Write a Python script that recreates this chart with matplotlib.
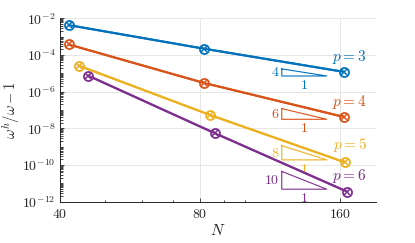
import matplotlib
matplotlib.use('Agg')
import matplotlib.pyplot as plt
import matplotlib.ticker as mticker
import numpy as np

plt.rcParams['mathtext.fontset'] = 'cm'
plt.rcParams['font.family'] = 'DejaVu Serif'

# --- data ---
orders = [3, 4, 5, 6]
colors = ['#0072BD', '#D95319', '#EDB120', '#7E2F8E']
N_vals = [
    [41.8, 81.5, 163],
    [41.8, 81.5, 163],
    [43.9, 84, 164],
    [46, 86, 166],
]
err_vals = [
    [4.2e-3, 2.2e-4, 1.2e-5],
    [3.7e-4, 3.0e-6, 4.2e-8],
    [2.6e-5, 5.4e-8, 1.4e-10],
    [7.4e-6, 5.5e-9, 3.5e-12],
]
slopes = [4, 6, 8, 10]
tri_N = [120, 150]
tri_base = [7.1e-6, 3.1e-8, 1.9e-10, 4.8e-12]
label_y = [7.8e-5, 2.8e-7, 1.2e-9, 2.6e-11]
label_N = 168
xticks = [40, 80, 160]

fig = plt.figure(figsize=(4.15, 2.43), dpi=100)
ax = fig.add_axes([0.1446, 0.170, 0.7604, 0.755])

for p, c, N, e, s, tb, ly in zip(orders, colors, N_vals, err_vals, slopes, tri_base, label_y):
    ax.plot(N, e, '-', color=c, lw=1.5, marker='o', ms=6.5, mfc='white', mew=1.3, zorder=3)
    ax.plot(N, e, 'none', color=c, marker='x', ms=4.0, mew=1.1, zorder=4)
    # slope triangle
    n0, n1 = tri_N
    top = tb * (n1 / n0) ** s
    ax.plot([n0, n0, n1, n0], [top, tb, tb, top], color=c, lw=0.8, zorder=2)
    ax.text(n0 * 0.99, np.sqrt(top * tb), '$%d$' % s, color=c, fontsize=10,
            ha='right', va='center')
    ax.text(np.sqrt(n0 * n1), tb * 0.78, '$1$', color=c, fontsize=10, ha='center', va='top')
    ax.text(label_N, ly, '$p = %d$' % p, color=c, fontsize=11, ha='center', va='center')

ax.set_xscale('log')
ax.set_yscale('log')
ax.set_xlim(40, 191)
ax.set_ylim(1e-12, 1e-2)

ax.xaxis.set_major_locator(mticker.FixedLocator(xticks))
ax.xaxis.set_major_formatter(mticker.FixedFormatter(['$%d$' % t for t in xticks]))
ax.xaxis.set_minor_locator(mticker.FixedLocator([50, 60, 70, 90, 100]))
ax.xaxis.set_minor_formatter(mticker.NullFormatter())

ax.yaxis.set_major_locator(mticker.FixedLocator([10.0 ** k for k in range(-12, -1, 2)]))
ax.yaxis.set_major_formatter(mticker.FuncFormatter(lambda v, pos: r'$10^{%d}$' % round(np.log10(v))))
ax.yaxis.set_minor_locator(mticker.LogLocator(base=10, subs=np.arange(1, 10), numticks=100))
ax.yaxis.set_minor_formatter(mticker.NullFormatter())

ax.grid(True, which='major', color='#e6e6e6', lw=0.7)
ax.set_axisbelow(True)
for side in ['top', 'right']:
    ax.spines[side].set_visible(False)
for side in ['left', 'bottom']:
    ax.spines[side].set_color('#262626')
    ax.spines[side].set_linewidth(0.7)
ax.tick_params(which='both', direction='in', colors='#262626', labelsize=10, width=0.6)
ax.tick_params(which='major', length=3)
ax.tick_params(which='minor', length=1.8)

ax.set_xlabel('$N$', fontsize=11, color='#262626', labelpad=2)
ax.set_ylabel(r'$\omega^h/\omega - 1$', fontsize=10.5, color='#262626', labelpad=0)

fig.savefig('out.png', dpi=100)
